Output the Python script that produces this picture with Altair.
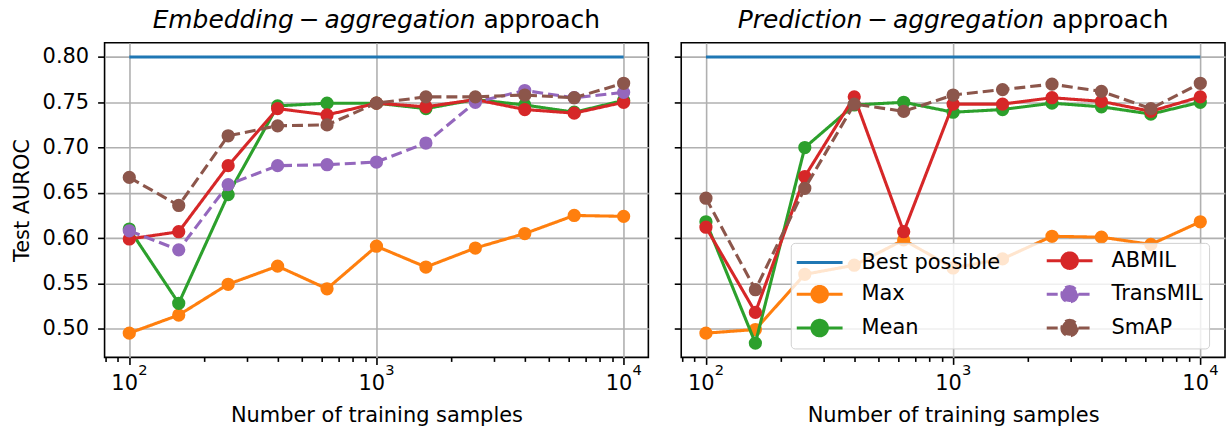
import altair as alt
import pandas as pd

# ---------------- data ----------------
x_samples = [100, 158.49, 251.19, 398.11, 630.96, 1000, 1584.89, 2511.89, 3981.07, 6309.57, 10000]
best_x = [100, 10000]
best_auroc = [0.80, 0.80]

emb_max = [0.495, 0.515, 0.549, 0.569, 0.544, 0.591, 0.568, 0.589, 0.605, 0.625, 0.624]
emb_mean = [0.610, 0.528, 0.648, 0.746, 0.749, 0.749, 0.743, 0.753, 0.747, 0.739, 0.752]
emb_abmil = [0.599, 0.607, 0.680, 0.743, 0.736, 0.749, 0.745, 0.753, 0.742, 0.738, 0.750]
emb_transmil = [0.608, 0.587, 0.659, 0.680, 0.681, 0.684, 0.705, 0.750, 0.763, 0.755, 0.761]
emb_smap = [0.667, 0.636, 0.713, 0.724, 0.725, 0.749, 0.756, 0.756, 0.758, 0.755, 0.771]

pred_max = [0.495, 0.499, 0.560, 0.570, 0.598, 0.567, 0.577, 0.602, 0.601, 0.593, 0.618]
pred_mean = [0.618, 0.484, 0.700, 0.747, 0.750, 0.739, 0.742, 0.749, 0.745, 0.737, 0.750]
pred_abmil = [0.612, 0.518, 0.668, 0.756, 0.607, 0.748, 0.748, 0.755, 0.751, 0.740, 0.756]
pred_smap = [0.644, 0.543, 0.655, 0.748, 0.740, 0.758, 0.764, 0.770, 0.762, 0.743, 0.771]

series_names = ["Best possible", "Max", "Mean", "ABMIL", "TransMIL", "SmAP"]
series_colors = ["#1f77b4", "#ff7f0e", "#2ca02c", "#d62728", "#9467bd", "#8c564b"]
series_dashes = [[1, 0], [1, 0], [1, 0], [1, 0], [11, 5], [11, 5]]

x_major = [100, 1000, 10000]
x_major_base = ["10", "10", "10"]
x_major_exp = ["2", "3", "4"]
x_minor = [80, 90, 200, 300, 400, 500, 600, 700, 800, 900,
           2000, 3000, 4000, 5000, 6000, 7000, 8000, 9000]
y_ticks = [0.50, 0.55, 0.60, 0.65, 0.70, 0.75, 0.80]

# italic part written as matplotlib mathtext renders it (minus sign with thin spaces)
emb_title = ("Embedding\u2009\u2212\u2009aggregation", "approach")
pred_title = ("Prediction\u2009\u2212\u2009aggregation", "approach")
x_title = "Number of training samples"
y_title = "Test AUROC"


def make_df(curves):
    rows = [{"series": "Best possible", "samples": x, "auroc": v}
            for x, v in zip(best_x, best_auroc)]
    for name, vals in curves.items():
        rows += [{"series": name, "samples": x, "auroc": v} for x, v in zip(x_samples, vals)]
    return pd.DataFrame(rows)


emb_df = make_df({"Max": emb_max, "Mean": emb_mean, "ABMIL": emb_abmil,
                  "TransMIL": emb_transmil, "SmAP": emb_smap})
pred_df = make_df({"Max": pred_max, "Mean": pred_mean, "ABMIL": pred_abmil,
                   "SmAP": pred_smap})
tick_df = pd.DataFrame({"samples": x_major, "base": x_major_base, "exp": x_major_exp})

all_vals = list(emb_df["auroc"]) + list(pred_df["auroc"])
ylo, yhi = min(all_vals), max(all_vals)
ypad = 0.05 * (yhi - ylo)

FONT = "DejaVu Sans"
W, H = 546, 316
TICK_FS = 21
TITLE_FS = 25

xscale = alt.Scale(type="log", domain=[10 ** 1.9, 10 ** 4.1], nice=False)
yscale = alt.Scale(domain=[ylo - ypad, yhi + ypad], nice=False, zero=False)

major_test = "indexof([100, 1000, 10000], datum.value) >= 0"
xaxis = alt.Axis(
    values=x_major + x_minor,
    labelExpr="''", labelFontSize=1, labelPadding=0,
    tickSize={"condition": {"test": major_test, "value": 7}, "value": 4},
    gridOpacity={"condition": {"test": major_test, "value": 1}, "value": 0},
    title=x_title, titlePadding=39,
)
yaxis_left = alt.Axis(values=y_ticks, format=".2f", tickSize=7, labelPadding=9,
                      title=y_title, titlePadding=10)
yaxis_right = alt.Axis(values=y_ticks, tickSize=7, labels=False, title=None)

stroke_scale = alt.Scale(domain=series_names, range=series_colors)
fill_scale = alt.Scale(domain=series_names, range=series_colors)
dash_scale = alt.Scale(domain=series_names, range=series_dashes)
LINE_PATH = "M-2.3,0H2.3"
MARK_PATH = "M-2.3,0H2.3M0.78,0A0.78,0.78,0,1,1,-0.78,0A0.78,0.78,0,1,1,0.78,0Z"
shape_scale = alt.Scale(domain=series_names, range=[LINE_PATH] + [MARK_PATH] * 5)


def title_layers(parts, split):
    tdf = pd.DataFrame({"a": [parts[0]], "b": [parts[1]]})
    base = alt.Chart(tdf)
    t1 = base.mark_text(align="right", baseline="alphabetic", fontStyle="italic",
                        fontSize=TITLE_FS, font=FONT, color="black").encode(
        x=alt.value(split), y=alt.value(-15), text="a:N")
    t2 = base.mark_text(align="left", baseline="alphabetic", fontSize=TITLE_FS,
                        font=FONT, color="black").encode(
        x=alt.value(split + 8), y=alt.value(-15), text="b:N")
    return [t1, t2]


def tick_label_layers(x_enc):
    base = alt.Chart(tick_df)
    t_base = base.mark_text(align="right", baseline="alphabetic", dx=8.7,
                            fontSize=TICK_FS, font=FONT, color="black").encode(
        x=x_enc, y=alt.value(H + 33), text="base:N")
    t_exp = base.mark_text(align="left", baseline="alphabetic", dx=8.9,
                           fontSize=TICK_FS * 0.7, font=FONT, color="black").encode(
        x=x_enc, y=alt.value(H + 18), text="exp:N")
    return [t_base, t_exp]


def panel(df, parts, split, first):
    leg = None if first else alt.Legend(
        orient="none", legendX=110, legendY=201, columns=2, title=None,
        labelFontSize=TICK_FS, labelFont=FONT, labelColor="black", labelLimit=400,
        symbolSize=400, symbolStrokeWidth=3, symbolOffset=11.5, labelOffset=30.5,
        rowPadding=5, columnPadding=40, padding=6,
        fillColor="rgba(255,255,255,0.8)", strokeColor="#d0d0d0", cornerRadius=4,
    )
    x_enc = alt.X("samples:Q", scale=xscale, axis=xaxis)
    y_enc = alt.Y("auroc:Q", scale=yscale, axis=yaxis_left if first else yaxis_right)
    present = [s for s in series_names if s in set(df["series"])]
    layers = []
    for name in present:
        sub = alt.Chart(df).transform_filter(alt.datum.series == name)
        layers.append(sub.mark_line(strokeWidth=3.1, strokeJoin="round").encode(
            x=x_enc, y=y_enc,
            stroke=alt.Stroke("series:N", scale=stroke_scale, legend=leg),
            strokeDash=alt.StrokeDash("series:N", scale=dash_scale, legend=leg),
        ))
        if name != "Best possible":
            layers.append(sub.mark_point(filled=True, size=177, opacity=1).encode(
                x=x_enc, y=y_enc,
                fill=alt.Fill("series:N", scale=fill_scale, legend=leg),
            ))
    if not first:
        layers.append(alt.Chart(df).transform_filter("false").mark_point().encode(
            x=x_enc, y=y_enc,
            shape=alt.Shape("series:N", scale=shape_scale, legend=leg),
        ))
    layers += tick_label_layers(x_enc)
    layers += title_layers(parts, split)
    return alt.layer(*layers).properties(width=W, height=H)


left = panel(emb_df, emb_title, 372.5, True)
right = panel(pred_df, pred_title, 364.3, False)

chart = (
    alt.hconcat(left, right, spacing=23)
    .resolve_scale(stroke="independent", fill="independent",
                   shape="independent", strokeDash="independent")
    .properties(padding={"left": 10, "top": 6, "right": 2, "bottom": 1})
    .configure(background="white", font=FONT)
    .configure_view(stroke="black", strokeWidth=1.6)
    .configure_axis(labelFont=FONT, titleFont=FONT, labelFontSize=TICK_FS,
                    titleFontSize=TICK_FS, titleFontWeight="normal", labelColor="black",
                    titleColor="black", tickColor="black", tickWidth=1.6,
                    gridColor="#b0b0b0", gridWidth=1.6, domain=False)
)

chart.save("out.html", embed_options={"renderer": "svg", "actions": False})
